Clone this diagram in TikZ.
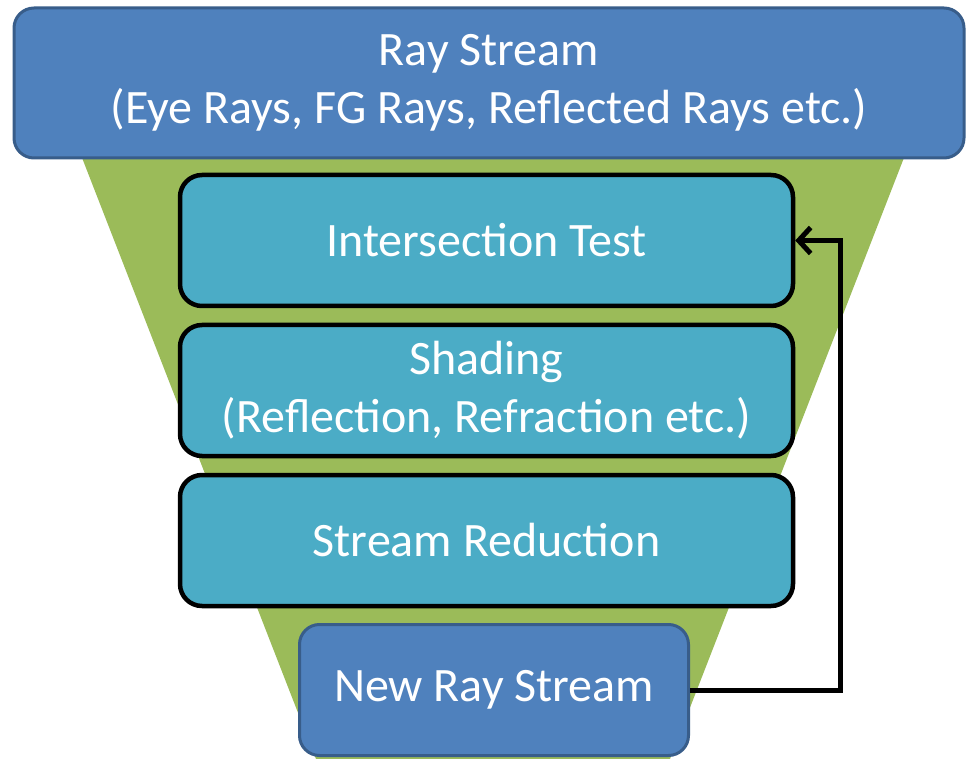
\documentclass[tikz,border=0pt]{standalone}
\usepackage{fontspec}
\setmainfont{Carlito}
\usetikzlibrary{arrows.meta}
\definecolor{rayblue}{HTML}{4F81BD}
\definecolor{rayedge}{HTML}{385D8A}
\definecolor{stagefill}{HTML}{4BACC6}
\definecolor{funnelgreen}{HTML}{9BBB59}
\tikzset{
  raybox/.style={draw=rayedge, fill=rayblue, line width=3pt, rounded corners=20pt,
    text=white, align=center, inner sep=0pt},
  stagebox/.style={draw=black, fill=stagefill, line width=4.5pt, rounded corners=22pt,
    text=white, align=center, inner sep=0pt,
    minimum width=613pt, minimum height=131pt},
  feedback/.style={line width=5pt, -{Straight Barb[length=12pt,width=26pt]}}
}

\begin{document}
\begin{tikzpicture}[x=1pt,y=-1pt,font=\fontsize{48}{58}\selectfont]
    \useasboundingbox (0,0) rectangle (967,759);
    % funnel behind the stages
    \fill[funnelgreen] (79,150) -- (907,150) -- (670,759) -- (316,759) -- cycle;
    % top: incoming rays
    \node[raybox, minimum width=950pt, minimum height=150pt] (stream) at (489,83)
      {Ray Stream\\(Eye Rays, FG Rays, Reflected Rays etc.)};
    % stages
    \node[stagebox] (isect) at (486.5,240.5) {Intersection Test};
    \node[stagebox] (shade) at (486.5,390.5)
      {Shading\\(Reflection, Refraction etc.)};
    \node[stagebox] (reduce) at (486.5,540.5) {Stream Reduction};
    % bottom: rays for the next pass
    \node[raybox, minimum width=389pt, minimum height=131pt] (newray) at (494,690)
      {New Ray Stream};
    % loop back
    \draw[feedback] (newray.east) -- ++(150,0) |- (isect.east);
\end{tikzpicture}
\end{document}
